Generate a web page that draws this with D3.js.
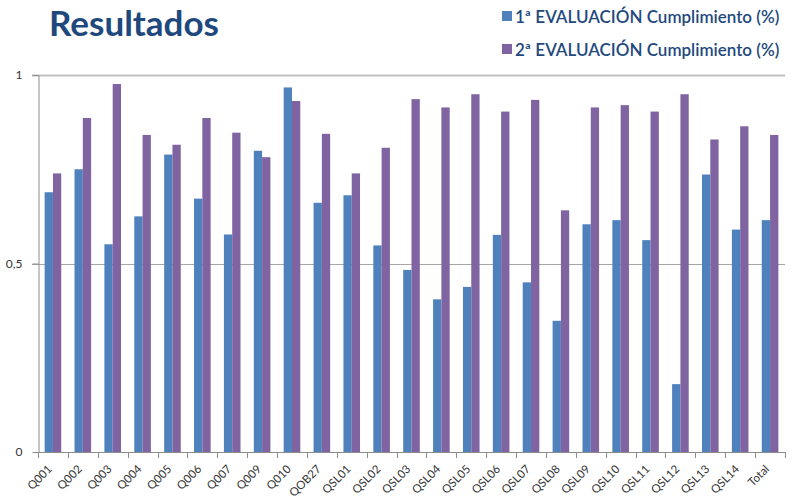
<!DOCTYPE html>
<html>
<head>
<meta charset="utf-8">
<script src="https://cdn.jsdelivr.net/npm/d3@7"></script>
<style>
  body { margin: 0; background: #fff; }
  svg { display: block; font-family: Lato, "Open Sans", sans-serif; }
</style>
</head>
<body>
<svg id="vis" width="792" height="498"></svg>
<script>
// categories and the two evaluation series
const categories = ["Q001", "Q002", "Q003", "Q004", "Q005", "Q006", "Q007", "Q009", "Q010", "QOB27",
    "QSL01", "QSL02", "QSL03", "QSL04", "QSL05", "QSL06", "QSL07", "QSL08", "QSL09", "QSL10",
    "QSL11", "QSL12", "QSL13", "QSL14", "Total"];
const eval1 = [0.689, 0.750, 0.551, 0.625, 0.789, 0.672, 0.577, 0.799, 0.967, 0.661,
    0.681, 0.548, 0.483, 0.405, 0.438, 0.576, 0.450, 0.348, 0.604, 0.615,
    0.562, 0.180, 0.736, 0.590, 0.615];
const eval2 = [0.739, 0.886, 0.976, 0.841, 0.815, 0.886, 0.847, 0.782, 0.931, 0.844,
    0.739, 0.807, 0.936, 0.914, 0.949, 0.903, 0.934, 0.641, 0.914, 0.920,
    0.903, 0.949, 0.829, 0.864, 0.841];
const seriesNames = ["1ª EVALUACIÓN Cumplimiento (%)", "2ª EVALUACIÓN Cumplimiento (%)"];
const seriesColors = ["#4f81bd", "#8064a2"];
const yTicks = [0, 0.5, 1];

const svg = d3.select('#vis');
const plotLeft = 38, plotRight = 785, plotTop = 75, plotBottom = 452;

const x0 = d3.scaleBand().domain(categories).range([plotLeft, plotRight]).padding(0);
const x1 = d3.scaleBand().domain([0, 1]).range([0, x0.bandwidth()])
    .paddingInner(0).paddingOuter(0.8);
const y = d3.scaleLinear().domain([0, 1]).range([plotBottom, plotTop]);

const esLocale = d3.formatLocale({decimal: ",", thousands: ".", grouping: [3], currency: ["", "€"]});
const fmt = esLocale.format("~g");

// title
svg.append("text")
    .attr("x", 49)
    .attr("y", 36)
    .attr("font-size", 35)
    .attr("font-weight", "bold")
    .attr("fill", "#1f497d")
    .text("Resultados");

// legend
const legend = svg.selectAll(".legend")
    .data(seriesNames)
    .enter().append("g")
    .attr("class", "legend")
    .attr("transform", function (d, i) {
        return "translate(502," + (17 + i * 33) + ")";
    });

legend.append("rect")
    .attr("x", 0)
    .attr("y", -6)
    .attr("width", 10)
    .attr("height", 10)
    .attr("fill", function (d, i) {
        return seriesColors[i];
    });

legend.append("text")
    .attr("x", 13)
    .attr("y", 0)
    .attr("dy", "0.35em")
    .attr("font-size", 17)
    .attr("font-weight", 600)
    .attr("fill", "#1f497d")
    .text(function (d) {
        return d;
    });

// gridlines
svg.append("g")
    .selectAll("line")
    .data(yTicks.filter(function (d) { return d > 0; }))
    .enter().append("line")
    .attr("x1", plotLeft - 6)
    .attr("x2", plotRight)
    .attr("y1", function (d) { return Math.round(y(d)) + 0.5; })
    .attr("y2", function (d) { return Math.round(y(d)) + 0.5; })
    .attr("stroke", function (d) { return d === 1 ? "#c0c0c0" : "#a6a6a6"; })
    .attr("stroke-width", function (d) { return d === 1 ? 2 : 1; });

// bars
const groups = svg.append("g")
    .selectAll("g")
    .data(categories)
    .enter().append("g")
    .attr("transform", function (d) {
        return "translate(" + x0(d) + ",0)";
    });

groups.selectAll("rect")
    .data(function (d, i) {
        return [{s: 0, v: eval1[i]}, {s: 1, v: eval2[i]}];
    })
    .enter().append("rect")
    .attr("x", function (d) { return x1(d.s); })
    .attr("width", x1.bandwidth())
    .attr("y", function (d) { return y(d.v); })
    .attr("height", function (d) { return y(0) - y(d.v); })
    .attr("fill", function (d) { return seriesColors[d.s]; });

// y axis
const yAxis = svg.append("g")
    .attr("transform", "translate(" + (plotLeft + 0.5) + ",0)")
    .call(d3.axisLeft(y).tickValues(yTicks).tickFormat(fmt).tickSize(6).tickSizeOuter(0));
yAxis.select(".domain").attr("stroke", "#8c8c8c");
yAxis.selectAll(".tick line").attr("stroke", "#8c8c8c");
yAxis.selectAll(".tick text")
    .attr("x", -16)
    .attr("font-size", 12)
    .attr("font-family", "Lato, sans-serif")
    .attr("fill", "#333");

// x axis line and ticks at category edges
const xAxisG = svg.append("g");
xAxisG.append("line")
    .attr("x1", plotLeft)
    .attr("x2", plotRight)
    .attr("y1", plotBottom + 0.5)
    .attr("y2", plotBottom + 0.5)
    .attr("stroke", "#8c8c8c");

xAxisG.selectAll(".xtick")
    .data(categories.map(function (d) { return x0(d); }).concat([plotRight]))
    .enter().append("line")
    .attr("class", "xtick")
    .attr("x1", function (d) { return Math.round(d) + 0.5; })
    .attr("x2", function (d) { return Math.round(d) + 0.5; })
    .attr("y1", plotBottom)
    .attr("y2", plotBottom + 6)
    .attr("stroke", "#8c8c8c");

xAxisG.selectAll(".xlabel")
    .data(categories)
    .enter().append("text")
    .attr("class", "xlabel")
    .attr("transform", function (d) {
        return "translate(" + (x0(d) + x0.bandwidth() / 2 - 3) + "," + (plotBottom + 15) + ") rotate(-45)";
    })
    .attr("text-anchor", "end")
    .attr("dy", "0.35em")
    .attr("font-size", 11.5)
    .attr("fill", "#333")
    .text(function (d) { return d; });
</script>
</body>
</html>
